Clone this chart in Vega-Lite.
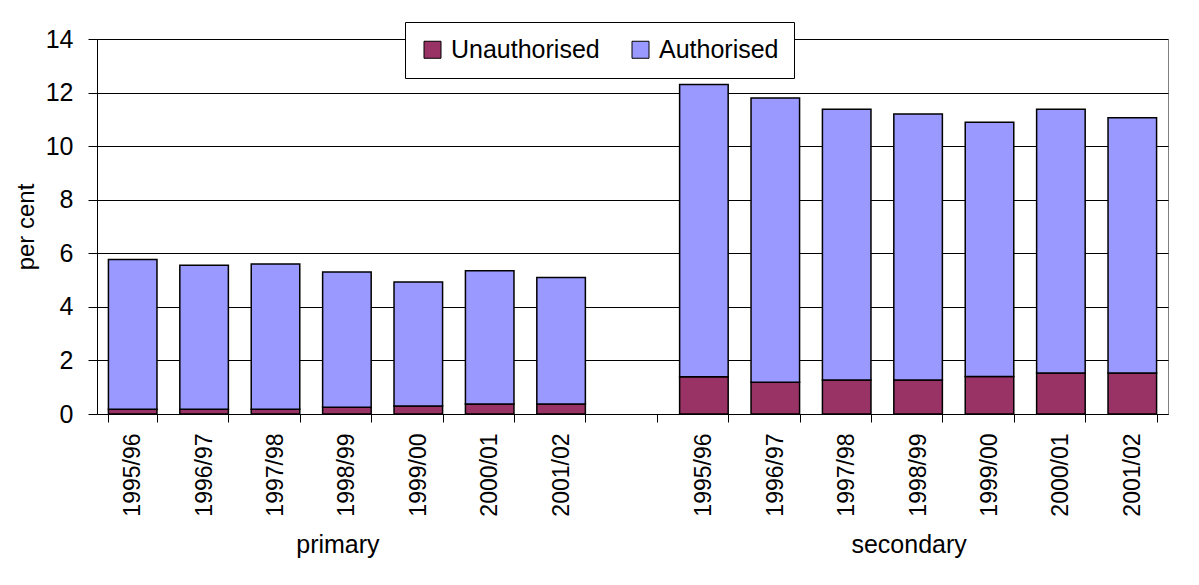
{
  "$schema": "https://vega.github.io/schema/vega-lite/v6.json",
  "width": 1071,
  "height": 375,
  "autosize": {"type": "none"},
  "padding": {"left": 97, "top": 39, "right": 31, "bottom": 171},
  "background": "white",
  "config": {
    "font": "Liberation Sans",
    "view": {"stroke": "#808080", "strokeWidth": 1},
    "axis": {"labelColor": "black", "titleColor": "black", "domainColor": "black", "tickColor": "black", "labelFont": "Liberation Sans", "titleFont": "Liberation Sans"}
  },
  "data": {
    "values": [
      {"cat": "primary 1995/96", "type": "Unauthorised", "value": 0.18},
      {"cat": "primary 1995/96", "type": "Authorised", "value": 5.59},
      {"cat": "primary 1996/97", "type": "Unauthorised", "value": 0.18},
      {"cat": "primary 1996/97", "type": "Authorised", "value": 5.37},
      {"cat": "primary 1997/98", "type": "Unauthorised", "value": 0.18},
      {"cat": "primary 1997/98", "type": "Authorised", "value": 5.42},
      {"cat": "primary 1998/99", "type": "Unauthorised", "value": 0.25},
      {"cat": "primary 1998/99", "type": "Authorised", "value": 5.05},
      {"cat": "primary 1999/00", "type": "Unauthorised", "value": 0.3},
      {"cat": "primary 1999/00", "type": "Authorised", "value": 4.63},
      {"cat": "primary 2000/01", "type": "Unauthorised", "value": 0.37},
      {"cat": "primary 2000/01", "type": "Authorised", "value": 4.98},
      {"cat": "primary 2001/02", "type": "Unauthorised", "value": 0.37},
      {"cat": "primary 2001/02", "type": "Authorised", "value": 4.73},
      {"cat": "secondary 1995/96", "type": "Unauthorised", "value": 1.39},
      {"cat": "secondary 1995/96", "type": "Authorised", "value": 10.91},
      {"cat": "secondary 1996/97", "type": "Unauthorised", "value": 1.19},
      {"cat": "secondary 1996/97", "type": "Authorised", "value": 10.61},
      {"cat": "secondary 1997/98", "type": "Unauthorised", "value": 1.27},
      {"cat": "secondary 1997/98", "type": "Authorised", "value": 10.11},
      {"cat": "secondary 1998/99", "type": "Unauthorised", "value": 1.27},
      {"cat": "secondary 1998/99", "type": "Authorised", "value": 9.93},
      {"cat": "secondary 1999/00", "type": "Unauthorised", "value": 1.4},
      {"cat": "secondary 1999/00", "type": "Authorised", "value": 9.49},
      {"cat": "secondary 2000/01", "type": "Unauthorised", "value": 1.53},
      {"cat": "secondary 2000/01", "type": "Authorised", "value": 9.85},
      {"cat": "secondary 2001/02", "type": "Unauthorised", "value": 1.53},
      {"cat": "secondary 2001/02", "type": "Authorised", "value": 9.53}
    ]
  },
  "layer": [
    {
      "mark": {"type": "bar", "stroke": "black", "strokeWidth": 1.5},
      "encoding": {
        "x": {
          "field": "cat",
          "type": "nominal",
          "scale": {
            "domain": ["primary 1995/96", "primary 1996/97", "primary 1997/98", "primary 1998/99", "primary 1999/00", "primary 2000/01", "primary 2001/02", "gap", "secondary 1995/96", "secondary 1996/97", "secondary 1997/98", "secondary 1998/99", "secondary 1999/00", "secondary 2000/01", "secondary 2001/02"],
            "paddingInner": 0.32,
            "paddingOuter": 0.16
          },
          "axis": {
            "title": null,
            "labelAngle": -90,
            "labelFontSize": 23,
            "labelPadding": 11,
            "tickBand": "extent",
            "tickSize": 8,
            "domain": true,
            "domainColor": "black",
            "domainWidth": 1,
            "grid": false,
            "labelOverlap": false,
            "labelExpr": "datum.value == 'gap' ? '' : split(datum.value, ' ')[1]"
          }
        },
        "y": {
          "field": "value",
          "type": "quantitative",
          "stack": "zero",
          "scale": {"domain": [0, 14], "nice": false},
          "axis": {
            "values": [0, 2, 4, 6, 8, 10, 12, 14],
            "title": "per cent",
            "titleFontSize": 24,
            "titleFontWeight": "normal",
            "titlePadding": 7,
            "labelFontSize": 25,
            "labelPadding": 15,
            "tickSize": 9,
            "domain": true,
            "domainColor": "black",
            "gridColor": "black",
            "gridOpacity": 1,
            "gridWidth": 1
          }
        },
        "color": {
          "field": "type",
          "type": "nominal",
          "scale": {"domain": ["Unauthorised", "Authorised"], "range": ["#993366", "#9999FF"]},
          "legend": {
            "title": null,
            "orient": "none",
            "legendX": 308,
            "legendY": -17,
            "direction": "horizontal",
            "fillColor": "white",
            "strokeColor": "black",
            "padding": 15,
            "labelFontSize": 25,
            "labelColor": "black",
            "labelFont": "Liberation Sans",
            "symbolType": "square",
            "symbolSize": 289,
            "symbolStrokeColor": "black",
            "symbolStrokeWidth": 1,
            "symbolOpacity": 1,
            "columnPadding": 28,
            "labelOffset": 6
          }
        },
        "order": {"field": "type", "sort": "descending"}
      }
    },
    {
      "mark": {"type": "bar", "opacity": 0},
      "encoding": {
        "x": {
          "field": "cat",
          "type": "nominal",
          "axis": {
            "title": null,
            "orient": "bottom",
            "labelAngle": 0,
            "labelFontSize": 25,
            "labelPadding": 118,
            "labelOffset": -9,
            "ticks": false,
            "tickSize": 0,
            "domain": false,
            "grid": false,
            "labelOverlap": false,
            "labelExpr": "datum.value == 'primary 1998/99' ? 'primary' : datum.value == 'secondary 1998/99' ? 'secondary' : ''"
          }
        },
        "y": {"field": "value", "type": "quantitative", "stack": "zero"}
      }
    }
  ],
  "resolve": {"axis": {"x": "independent"}}
}
